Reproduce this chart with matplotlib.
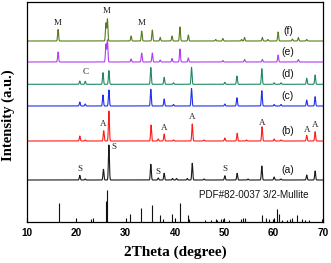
import numpy as np
import matplotlib
matplotlib.use("Agg")
import matplotlib.pyplot as plt

# ---- data: peak positions (2theta) and intensities (a.u.) ----
f_pos = [16.3, 26.0, 26.3, 31.1, 33.25, 35.4, 37.0, 39.4, 41.0, 42.7, 48.25, 49.7, 53.5, 54.1, 57.7, 58.8, 60.9, 63.8, 65.0, 66.7]
f_int = [11.5, 18, 22, 5, 10, 11, 3.5, 5, 14, 6, 1.5, 2.5, 1.5, 3.5, 3.5, 1.5, 9, 2, 3.5, 1.5]

e_pos = [16.3, 26.0, 26.3, 31.1, 33.25, 35.4, 37.0, 39.4, 41.0, 42.7, 49.7, 54.1, 57.7, 60.9, 65.0]
e_int = [10, 18, 22, 3, 9, 9, 2, 3.5, 13, 4, 1.5, 2.5, 2.5, 7, 2.5]

d_pos = [20.7, 21.8, 25.4, 26.6, 35.1, 37.8, 39.7, 43.35, 50.1, 52.55, 57.6, 60.1, 61.5, 66.7, 68.4]
d_int = [3.3, 3, 11.6, 13.7, 16.7, 7, 1.5, 17, 2, 8.3, 15.6, 1.5, 1.5, 6, 9.3]

c_pos = [20.7, 21.8, 25.4, 26.6, 35.1, 37.8, 39.7, 43.35, 50.1, 52.55, 57.6, 60.1, 61.5, 66.7, 68.4]
c_int = [4, 2, 11, 16, 16.7, 7, 1.5, 17.7, 2, 8.3, 15.3, 1.5, 1.5, 6, 9.3]

b_pos = [20.7, 21.8, 25.55, 26.6, 35.15, 36.6, 37.8, 39.7, 43.5, 45.9, 50.1, 52.6, 54.5, 57.65, 60.1, 61.5, 66.7, 68.4]
b_int = [5, 1, 10.3, 30, 16, 2, 7, 1, 17, 1, 3, 7.7, 1, 14.3, 2, 1, 5.7, 9.3]

a_pos = [20.7, 21.8, 25.5, 26.6, 35.1, 36.6, 37.8, 39.5, 40.3, 42.5, 43.5, 45.9, 50.1, 52.6, 54.8, 57.6, 60.1, 61.5, 66.7, 68.4]
a_int = [4.7, 1, 10.7, 35, 15.7, 2, 6.7, 1.5, 1.5, 1.5, 16.7, 1, 4.3, 6.7, 1, 14, 3, 1, 5, 9]

pdf_pos = [16.4, 23.0, 23.4, 25.95, 26.25, 30.95, 33.2, 35.3, 36.95, 37.65, 39.35, 41.0, 42.6, 42.9,
           46.1, 47.3, 48.3, 48.6, 49.25, 49.7, 49.9, 50.9, 53.45, 53.85, 54.2, 57.65, 58.5, 59.1,
           59.8, 60.75, 61.15, 61.6, 62.8, 63.3, 63.8, 64.8, 65.7, 66.35, 67.2, 69.7]
pdf_int = [19, 3.5, 4, 21.5, 32, 8, 13.7, 17, 7, 3.5, 8, 19, 6.7, 3,
           2, 2, 3, 2.5, 3, 3, 2, 2, 3.5, 4, 4, 7, 4, 3,
           3, 13, 8, 2.5, 2, 3, 4, 7, 3.5, 2.5, 2.5, 3]

series_names = ["(a)", "(b)", "(c)", "(d)", "(e)", "(f)"]

# ---- figure ----
W, H = 331, 263
fig = plt.figure(figsize=(W / 100, H / 100), dpi=100)
ax = fig.add_axes([27 / W, (H - 222) / H, (323 - 27) / W, (222 - 2) / H])

x = np.arange(10, 70.001, 0.02)
width = 0.1


def profile(pos, inten):
    y = np.zeros_like(x)
    for p, h in zip(pos, inten):
        y += h * np.exp(-0.5 * ((x - p) / width) ** 2)
    return y


patterns = [
    (a_pos, a_int, 42, "#1a1a1a"),
    (b_pos, b_int, 81, "#ff1a1a"),
    (c_pos, c_int, 116, "#1f2ff0"),
    (d_pos, d_int, 137.7, "#1f8a62"),
    (e_pos, e_int, 160, "#b43cf0"),
    (f_pos, f_int, 181, "#567d1c"),
]

for (pos, inten, off, col), name in zip(patterns, series_names):
    ax.plot(x, off + profile(pos, inten), color=col, lw=0.8)
    ax.text(62.9, off + 10, name, fontsize=7.5, ha="center", va="center",
            family="Liberation Sans", color="#111")

ax.vlines(pdf_pos, 0, pdf_int, color="#111", lw=0.8)
ax.text(56.0, 27, "PDF#82-0037 3/2-Mullite", fontsize=7.1, ha="center", va="center",
        family="Liberation Sans", color="#111")

# phase markers
marks = [
    ("M", 16.3, 199.3), ("M", 26.1, 211.3), ("M", 33.3, 198.7),
    ("C", 21.8, 150.3),
    ("A", 25.5, 98), ("A", 37.8, 93.7), ("A", 43.5, 104.7), ("A", 57.6, 99.3),
    ("A", 66.7, 92), ("A", 68.4, 97),
    ("S", 20.7, 52.7), ("S", 27.6, 74.7), ("S", 36.6, 49.7), ("S", 50.1, 52.7),
]
for t, xx, yy in marks:
    ax.text(xx, yy, t, fontsize=6.5, ha="center", va="center",
            family="Liberation Serif", color="#222")

ax.set_xlim(10, 70)
ax.set_ylim(0, 220)
ax.set_xticks([10, 20, 30, 40, 50, 60, 70])
ax.set_yticks([])
ax.tick_params(axis="x", direction="in", length=3, width=0.8, pad=4)
for lab in ax.get_xticklabels():
    lab.set_fontfamily("Liberation Sans")
    lab.set_fontweight("bold")
    lab.set_fontsize(7.2)
for s in ax.spines.values():
    s.set_linewidth(0.9)

fig.text(175 / W, 1 - 252.5 / H, "2Theta (degree)", fontsize=11, fontweight="bold",
         family="Liberation Serif", ha="center", va="center")
fig.text(8 / W, 1 - 115 / H, "Intensity (a.u.)", fontsize=10.5, fontweight="bold",
         family="Liberation Serif", ha="center", va="center", rotation=90)

fig.savefig("out.png", dpi=100)
